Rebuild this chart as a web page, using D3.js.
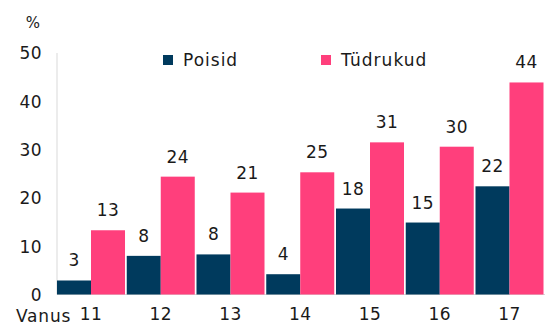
<!DOCTYPE html>
<html><head><meta charset="utf-8">
<script src="https://cdn.jsdelivr.net/npm/d3@7"></script>
<style>body{margin:0;background:#fff}svg{display:block}text{font-family:"DejaVu Sans",sans-serif;fill:#1a1a1a}</style>
</head><body>
<script>
const categories = ["11","12","13","14","15","16","17"];
const seriesNames = ["Poisid","Tüdrukud"];
const poisid = [2.9, 8.0, 8.3, 4.2, 17.8, 14.9, 22.4];
const tudrukud = [13.3, 24.4, 21.1, 25.3, 31.5, 30.6, 43.9];
const labelsPoisid = ["3","8","8","4","18","15","22"];
const labelsTudrukud = ["13","24","21","25","31","30","44"];
const yTicks = [0,10,20,30,40,50];
const colors = ["#003a5d","#ff3f7c"];

const W=559,H=336;
const svg=d3.select("body").append("svg").attr("width",W).attr("height",H);
const x=d3.scaleBand().domain(categories).range([57,543.5]).paddingInner(0.025).paddingOuter(0);
const xi=d3.scaleBand().domain(seriesNames).range([0,x.bandwidth()]);
const y=d3.scaleLinear().domain([0,50]).range([294.5,53]);

svg.append("line").attr("x1",57).attr("x2",57).attr("y1",y(50)).attr("y2",y(0)).attr("stroke","#d9d9d9").attr("stroke-width",1);
svg.append("line").attr("x1",57).attr("x2",545).attr("y1",y(0)).attr("y2",y(0)).attr("stroke","#d9d9d9").attr("stroke-width",1);

const yAxis=d3.axisLeft(y).tickValues(yTicks).tickSize(0).tickPadding(15);
const gy=svg.append("g").attr("transform","translate(57,0)").call(yAxis);
gy.select(".domain").remove();
gy.selectAll("text").attr("font-size",17).attr("font-family","DejaVu Sans").attr("fill","#1a1a1a").attr("dy","0.35em").attr("letter-spacing","0.4px");

const xAxis=d3.axisBottom(x).tickSize(0).tickPadding(15);
const gx=svg.append("g").attr("transform",`translate(0,${y(0)})`).call(xAxis);
gx.select(".domain").remove();
gx.selectAll("text").attr("font-size",17).attr("font-family","DejaVu Sans").attr("fill","#1a1a1a").attr("dy","0.6em").attr("letter-spacing","0.4px");

svg.append("text").attr("x",33).attr("y",28).attr("text-anchor","middle").attr("font-size",15).text("%");
svg.append("text").attr("x",16).attr("y",322).attr("font-size",17).attr("letter-spacing","0.8px").text("Vanus");

const data=categories.map((c,i)=>({c,vals:[{s:seriesNames[0],v:poisid[i],l:labelsPoisid[i]},{s:seriesNames[1],v:tudrukud[i],l:labelsTudrukud[i]}]}));
const g=svg.selectAll("g.grp").data(data).join("g").attr("class","grp").attr("transform",d=>`translate(${x(d.c)},0)`);
g.selectAll("rect").data(d=>d.vals).join("rect")
 .attr("x",d=>xi(d.s)).attr("width",xi.bandwidth())
 .attr("y",d=>y(d.v)).attr("height",d=>y(0)-y(d.v))
 .attr("fill",(d,i)=>colors[i]);
g.selectAll("text.val").data(d=>d.vals).join("text").attr("class","val")
 .attr("x",d=>xi(d.s)+xi.bandwidth()/2).attr("y",d=>y(d.v)-14)
 .attr("text-anchor","middle").attr("font-size",17).attr("letter-spacing","0.4px").text(d=>d.l);

const leg=[{n:seriesNames[0],x:163},{n:seriesNames[1],x:321}];
leg.forEach((d,i)=>{
  svg.append("rect").attr("x",d.x).attr("y",55).attr("width",10).attr("height",10).attr("fill",colors[i]);
  svg.append("text").attr("x",d.x+20).attr("y",66).attr("font-size",17).attr("letter-spacing","1px").text(d.n);
});
</script>
</body></html>
